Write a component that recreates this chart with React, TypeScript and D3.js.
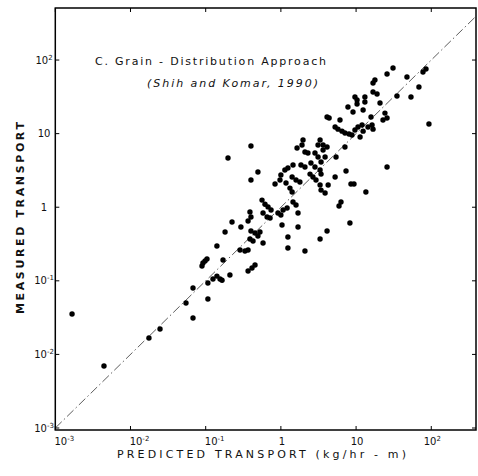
import React from "react";
import * as d3 from "d3";

// Predicted transport (kg/hr-m) for each observation
const predicted = [
  31.0, 25.8, 17.8, 16.8, 47.5, 77.6, 85.0, 68.5, 35.0, 53.7,
  16.8, 19.0, 20.8, 24.2, 25.8, 22.8, 15.8, 16.3, 16.8, 14.4,
  93.1, 13.1, 13.1, 12.4, 11.3, 25.8, 9.66, 10.3, 10.3, 7.8,
  9.1, 4.11, 4.38, 6.11, 5.26, 5.75, 6.5, 7.11, 8.05, 8.81,
  9.66, 10.6, 12.0, 12.4, 1.97, 1.91, 1.64, 3.32, 3.12, 3.64,
  4.11, 3.64, 7.11, 2.09, 2.29, 2.84, 3.12, 3.42, 3.87, 5.41,
  0.4, 1.85, 2.09, 2.51, 2.84, 3.32, 3.42, 1.45, 0.495, 0.4,
  1.13, 1.24, 1.0, 0.973, 0.836, 1.17, 1.32, 1.41, 1.59, 1.79,
  2.44, 2.67, 2.93, 3.32, 3.42, 3.87, 4.25, 5.26, 7.35, 8.55,
  9.38, 13.5, 6.3, 5.93, 1.45, 1.59, 1.69, 1.0, 0.561, 0.615,
  0.675, 0.74, 0.579, 0.655, 0.718, 0.388, 0.4, 0.366, 0.294, 0.4,
  0.453, 0.495, 1.24, 1.69, 4.11, 3.32, 8.28, 0.914, 1.07, 1.21,
  1.035, 0.527, 0.388, 0.426, 0.579, 1.24, 2.09, 0.333, 0.366, 0.286,
  0.366, 0.413, 0.453, 0.198, 0.224, 0.181, 0.17, 0.21, 0.165, 0.141,
  0.092, 0.098, 0.104, 0.0893, 0.0678, 0.107, 0.125, 0.141, 0.155, 0.107,
  0.0547, 0.0678, 0.0247, 0.0176, 0.00444, 0.00167, 1.41,
];

// Measured transport (kg/hr-m), same order
const measured = [
  77.8, 64.5, 53.5, 48.7, 58.7, 68.7, 75.5, 43.0, 32.4, 31.4,
  36.7, 34.5, 26.1, 19.0, 16.3, 15.3, 16.8, 13.1, 11.5, 12.3,
  13.5, 31.4, 26.9, 20.9, 8.99, 3.52, 31.4, 28.6, 25.3, 23.0,
  19.7, 16.8, 16.3, 15.3, 12.3, 11.5, 10.8, 10.2, 9.88, 9.57,
  11.2, 12.3, 13.1, 10.8, 8.19, 7.0, 6.37, 8.19, 7.0, 7.0,
  6.58, 5.98, 6.58, 5.62, 5.45, 5.45, 4.81, 4.11, 4.81, 4.81,
  6.79, 3.74, 3.52, 3.99, 3.52, 3.2, 2.82, 3.74, 3.01, 2.34,
  3.2, 3.41, 2.74, 2.34, 2.07, 2.13, 1.82, 1.61, 2.34, 2.2,
  2.82, 2.57, 2.34, 2.0, 1.71, 1.56, 2.0, 2.57, 3.1, 2.07,
  2.07, 1.61, 1.18, 1.04, 1.18, 1.07, 0.834, 0.784, 1.25, 1.1,
  1.01, 0.916, 0.834, 0.736, 0.713, 0.861, 0.736, 0.65, 0.538, 0.475,
  0.446, 0.406, 0.394, 0.538, 0.475, 0.37, 0.61, 0.834, 0.916, 0.975,
  0.573, 0.46, 0.37, 0.347, 0.326, 0.279, 0.254, 0.254, 0.262, 0.262,
  0.136, 0.149, 0.164, 4.66, 0.629, 0.46, 0.192, 0.12, 0.102, 0.297,
  0.175, 0.186, 0.198, 0.159, 0.0798, 0.0933, 0.106, 0.116, 0.106, 0.0566,
  0.0499, 0.0313, 0.0221, 0.0167, 0.00695, 0.0354, 2.57,
];

const decades = [1e-3, 1e-2, 1e-1, 1, 10, 100];
const tickBase = ["10", "10", "10", "1", "10", "10"];
const tickExp = ["-3", "-2", "-1", "", "", "2"];
const identityEnds = [1e-3, 10 ** 2.6];

const titleLine1 = "C.  Grain - Distribution  Approach";
const titleLine2 = "(Shih and Komar, 1990)";
const xTitle = "PREDICTED   TRANSPORT   (kg/hr - m)";
const yTitle = "MEASURED   TRANSPORT";

const FONT = "'DejaVu Sans', 'Liberation Sans', sans-serif";

export default function App() {
  const W = 478;
  const H = 476;
  const L = 55.3, R = 477, T = 8, B = 430;

  const x = d3.scaleLog().domain([1e-3, 10 ** 2.608]).range([L, R]);
  const y = d3.scaleLog().domain([10 ** -3.027, 10 ** 2.707]).range([B, T]);

  const identity = d3
    .line<number>()
    .x((d) => x(d))
    .y((d) => y(d))(identityEnds);

  const tick = 4;

  return (
    <svg
      width={W}
      height={H}
      viewBox={`0 0 ${W} ${H}`}
      style={{ position: "absolute", left: 0, top: 0, background: "#fff" }}
      fontFamily={FONT}
    >
      <rect x={0} y={0} width={W} height={H} fill="#fff" />

      {/* 1:1 line */}
      <path
        d={identity || ""}
        fill="none"
        stroke="#333"
        strokeWidth={0.8}
        strokeDasharray="9 3 1.5 3"
      />

      {/* data points */}
      {predicted.map((p, i) => (
        <circle key={i} cx={x(p)} cy={y(measured[i])} r={2.7} fill="#000" />
      ))}

      {/* frame */}
      <rect
        x={L}
        y={T}
        width={R - L - 1}
        height={B - T}
        fill="none"
        stroke="#000"
        strokeWidth={1.5}
      />

      {/* ticks on all four sides, inward */}
      {decades.map((d, i) => (
        <g key={"t" + i} stroke="#000" strokeWidth={1}>
          <line x1={x(d)} x2={x(d)} y1={B} y2={B - tick} />
          <line x1={x(d)} x2={x(d)} y1={T} y2={T + tick} />
          <line x1={L} x2={L + tick} y1={y(d)} y2={y(d)} />
          <line x1={R - 1} x2={R - 1 - tick} y1={y(d)} y2={y(d)} />
        </g>
      ))}

      {/* x tick labels */}
      {decades.map((d, i) => (
        <text
          key={"xl" + i}
          x={x(d) + (tickExp[i].startsWith("-") ? 9 : 1)}
          y={445}
          fontSize={10}
          textAnchor="middle"
          fill="#111"
        >
          {tickBase[i]}
          {tickExp[i] && (
            <tspan fontSize={7} dy={-4}>
              {tickExp[i]}
            </tspan>
          )}
        </text>
      ))}

      {/* y tick labels */}
      {decades.map((d, i) => (
        <text
          key={"yl" + i}
          x={44}
          y={y(d) + 3.5}
          fontSize={10}
          textAnchor="middle"
          fill="#111"
        >
          {tickBase[i]}
          {tickExp[i] && (
            <tspan fontSize={7} dy={-4}>
              {tickExp[i]}
            </tspan>
          )}
        </text>
      ))}

      {/* titles */}
      <text x={95} y={65} fontSize={11} textLength={231} lengthAdjust="spacing" fill="#111">
        {titleLine1}
      </text>
      <text x={147} y={87} fontSize={11} fontStyle="italic" textLength={171} lengthAdjust="spacing" fill="#111">
        {titleLine2}
      </text>

      <text x={117} y={458} fontSize={11} textLength={289} lengthAdjust="spacing" fill="#111">
        {xTitle}
      </text>
      <text
        transform="translate(24,218) rotate(-90)"
        fontSize={11}
        fontWeight="bold"
        textAnchor="middle"
        textLength={192}
        lengthAdjust="spacing"
        fill="#111"
      >
        {yTitle}
      </text>
    </svg>
  );
}
